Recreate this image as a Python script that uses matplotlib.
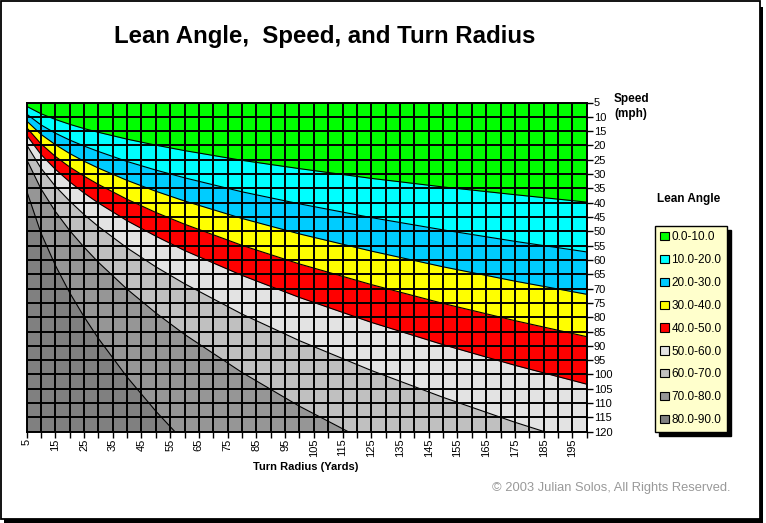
import numpy as np
import matplotlib
matplotlib.use('Agg')
import matplotlib.pyplot as plt
from matplotlib.patches import Patch, Rectangle

plt.rcParams['font.family'] = ['Liberation Sans', 'DejaVu Sans']

# turn radius (yards) where the boundary speeds were read
radius = [5, 10, 15, 20, 25, 30, 40, 50, 60, 80, 100, 125, 150, 175, 200]

# speed (mph) of each lean angle boundary at those radii
b10 = [6.3, 8.9, 10.9, 12.6, 14.1, 15.4, 17.8, 19.9, 21.8, 25.2, 28.1, 31.5, 34.5, 37.2, 39.8]
b20 = [9.0, 12.8, 15.7, 18.1, 20.2, 22.1, 25.6, 28.6, 31.3, 36.2, 40.4, 45.2, 49.5, 53.5, 57.2]
b30 = [11.4, 16.1, 19.7, 22.8, 25.5, 27.9, 32.2, 36.0, 39.4, 45.5, 50.9, 56.9, 62.4, 67.4, 72.0]
b40 = [13.7, 19.4, 23.8, 27.5, 30.7, 33.6, 38.8, 43.4, 47.5, 54.9, 61.4, 68.6, 75.2, 81.2, 86.8]
b50 = [16.4, 23.1, 28.3, 32.7, 36.6, 40.1, 46.3, 51.7, 56.7, 65.4, 73.1, 81.8, 89.6, 96.8, 103.4]
b60 = [19.7, 27.9, 34.2, 39.4, 44.1, 48.3, 55.8, 62.4, 68.3, 78.9, 88.2, 98.6, 108.0, 116.7, 124.7]
b70 = [24.8, 35.1, 43.0, 49.7, 55.5, 60.8, 70.2, 78.5, 86.0, 99.3, 111.1, 124.2, 136.0, 146.9, 157.1]
b80 = [35.7, 50.5, 61.8, 71.4, 79.8, 87.4, 100.9, 112.8, 123.6, 142.7, 159.6, 178.4, 195.4, 211.1, 225.7]

bands = ['0.0-10.0', '10.0-20.0', '20.0-30.0', '30.0-40.0', '40.0-50.0',
         '50.0-60.0', '60.0-70.0', '70.0-80.0', '80.0-90.0']
colors = ['#00FF00', '#00FFFF', '#00CCFF', '#FFFF00', '#FF0000',
          '#E3E3E3', '#C0C0C0', '#969696', '#808080']

W, H = 766, 523
fig = plt.figure(figsize=(W / 100, H / 100), dpi=100)

# outer frame with shadow
fig.patches.append(Rectangle((4 / W, 0), 759 / W, 516 / H, transform=fig.transFigure,
                             facecolor='black', edgecolor='none', zorder=0))
fig.patches.append(Rectangle((1 / W, 4 / H), 759 / W, 518 / H, transform=fig.transFigure,
                             facecolor='white', edgecolor='black', linewidth=1.3, zorder=0.5))

ax = fig.add_axes([26.5 / W, 1 - 431.7 / H, 560.2 / W, 329.2 / H])
ax.set_zorder(2)
ax.set_facecolor(colors[-1])

bounds = [b10, b20, b30, b40, b50, b60, b70, b80]
# fill from the steepest band to the flattest
for i in range(len(bounds) - 1, -1, -1):
    ax.fill_between(radius, 0, bounds[i], color=colors[i], linewidth=0, zorder=1)
for b in bounds:
    ax.plot(radius, b, color='black', linewidth=0.8, zorder=2)

ax.set_xlim(5, 200)
ax.set_ylim(120, 5)

ax.set_xticks(np.arange(5, 200, 10))
ax.set_xticks(np.arange(10, 201, 10), minor=True)
ax.set_xticklabels([str(v) for v in range(5, 200, 10)], rotation=90, fontsize=8)
ax.set_yticks(np.arange(5, 121, 5))
ax.set_yticklabels([str(v) for v in range(5, 121, 5)], fontsize=8)
ax.yaxis.tick_right()
ax.tick_params(axis='both', which='both', direction='out', length=4, width=1, color='black', pad=1)

for v in range(5, 201, 5):
    ax.axvline(v, color='black', linewidth=1.4, zorder=3)
for v in range(5, 121, 5):
    ax.axhline(v, color='black', linewidth=1.4, zorder=3)
for s in ax.spines.values():
    s.set_linewidth(1.4)
    s.set_zorder(4)

fig.text(324.5 / W, 1 - 36 / H, 'Lean Angle,  Speed, and Turn Radius',
         fontsize=17.3, fontweight='bold', ha='center', va='center')
fig.text(306 / W, 1 - 467 / H, 'Turn Radius (Yards)', fontsize=8, fontweight='bold',
         ha='center', va='center')
fig.text(614 / W, 1 - 99 / H, 'Speed', fontsize=8.5, fontweight='bold', ha='left', va='center')
fig.text(614 / W, 1 - 114 / H, '(mph)', fontsize=8.5, fontweight='bold', ha='left', va='center')
fig.text(689 / W, 1 - 199 / H, 'Lean Angle', fontsize=8.5, fontweight='bold', ha='center', va='center')
fig.text(731 / W, 1 - 488 / H, '\u00a9 2003 Julian Solos, All Rights Reserved.',
         fontsize=9.3, color='#999999', ha='right', va='center')

handles = [Patch(facecolor=c, edgecolor='black', linewidth=0.8) for c in colors]
leg = fig.legend(handles, bands, loc='upper left', bbox_to_anchor=(655 / W, 1 - 226 / H),
                 fontsize=8.5, frameon=True, fancybox=False, borderpad=0.45, borderaxespad=0,
                 labelspacing=0.92, handlelength=0.7, handleheight=0.7, handletextpad=0.25,
                 shadow={'color': 'black', 'alpha': 1, 'ox': 3, 'oy': -3})
leg.get_frame().set_facecolor('#FFFFCC')
leg.get_frame().set_edgecolor('black')
leg.get_frame().set_linewidth(1.0)
leg.get_frame().set_alpha(1)

fig.savefig('out.png', dpi=100)
